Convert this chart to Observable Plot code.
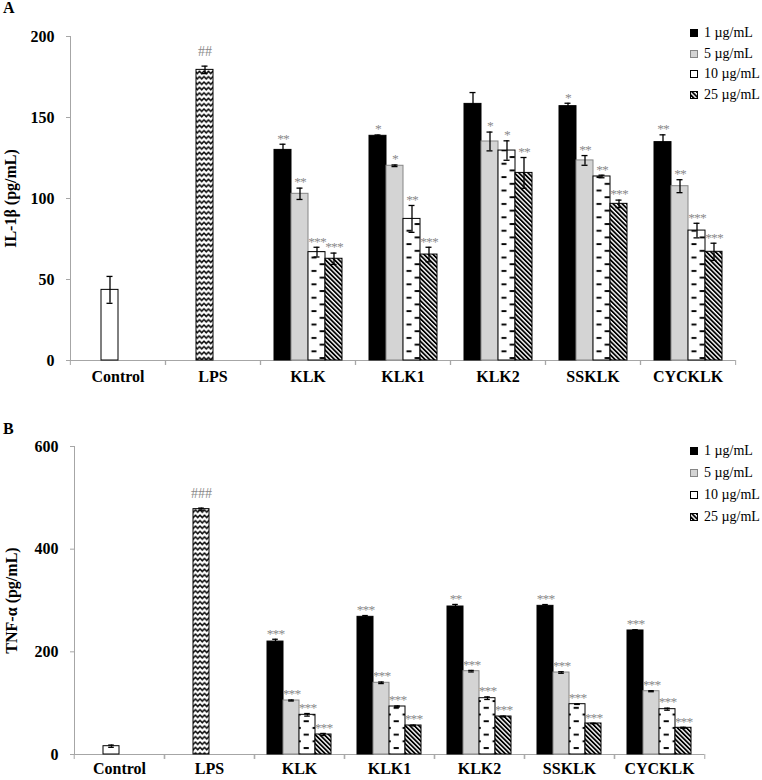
<!DOCTYPE html>
<html><head><meta charset="utf-8">
<script src="https://cdn.jsdelivr.net/npm/d3@7"></script>
<script src="https://cdn.jsdelivr.net/npm/@observablehq/plot@0.6"></script>
<style>
body{margin:0;background:#fff;}
#wrap{position:relative;width:762px;height:780px;font-family:'Liberation Serif','Times New Roman',serif;color:#000;}
.panel{position:absolute;left:0;width:762px;height:390px;}
.letter{position:absolute;left:3px;font-weight:bold;font-size:16px;line-height:16px;}
.legend{position:absolute;left:690px;top:0;font-size:14px;}
.legend .row{position:absolute;left:0;white-space:nowrap;display:flex;align-items:center;height:18px;transform:translateY(-50%);}
.legend svg{margin-right:6px;display:block;}
</style></head>
<body>
<svg width="0" height="0" style="position:absolute">
<defs>
<pattern id="dashA" patternUnits="userSpaceOnUse" x="12.2" y="0" width="17.74" height="13.4">
<rect width="17.74" height="13.4" fill="#fff"/>
<rect x="1.8" y="2" width="5" height="1.9" fill="#000"/>
<rect x="10" y="8.7" width="5.4" height="1.9" fill="#000"/>
</pattern>
<pattern id="dashB" patternUnits="userSpaceOnUse" x="11.9" y="0" width="16.7" height="13.4">
<rect width="16.7" height="13.4" fill="#fff"/>
<rect x="1.7" y="2" width="5" height="1.9" fill="#000"/>
<rect x="9.5" y="8.7" width="5.2" height="1.9" fill="#000"/>
</pattern>
<pattern id="diag" patternUnits="userSpaceOnUse" width="3.2" height="3.2" patternTransform="rotate(-45)">
<rect width="3.2" height="3.2" fill="#fff"/>
<rect width="1.8" height="3.2" fill="#000"/>
</pattern>
<pattern id="zig" patternUnits="userSpaceOnUse" width="4.5" height="5.4">
<rect width="4.5" height="5.4" fill="#fff"/>
<path d="M-0.2,0.7 L2.25,3.5 L4.7,0.7" fill="none" stroke="#000" stroke-width="1.45"/>
</pattern>
</defs>
</svg>
<div id="wrap">
  <div class="panel" id="pA" style="top:0"></div>
  <div class="panel" id="pB" style="top:390px"></div>
  <div class="letter" style="top:0px">A</div>
  <div class="letter" style="top:421px">B</div>
  <div class="legend" id="legA"></div>
  <div class="legend" id="legB"></div>
</div>
<script>
// ---- categories ----
const treatments = ["KLK", "KLK1", "KLK2", "SSKLK", "CYCKLK"];
const groups = ["Control", "LPS", ...treatments];
const doses = ["1 µg/mL", "5 µg/mL", "10 µg/mL", "25 µg/mL"];

// ---- IL-1β (pg/mL) ----
const ilControl = [43.6], ilControlErr = [8.3];
const ilLPS = [179.4], ilLPSErr = [2.3], ilLPSSig = ["##"];
const il1 = [130, 138.7, 158.4, 157, 134.8];
const il1Err = [3.5, 0.5, 7, 1.8, 4.5];
const il1Sig = ["**", "*", "", "*", "**"];
const il5 = [102.9, 120.2, 135.2, 123.5, 107.6];
const il5Err = [3.5, 0.5, 5.8, 3, 4];
const il5Sig = ["**", "*", "*", "**", "**"];
const il10 = [66.9, 87.4, 129.6, 113.6, 80.2];
const il10Err = [3, 8.3, 6, 0.8, 4.5];
const il10Sig = ["***", "**", "*", "**", "***"];
const il25 = [62.8, 65.4, 115.8, 96.7, 67.1];
const il25Err = [3.5, 4.5, 9.5, 2.3, 5.3];
const il25Sig = ["***", "***", "**", "***", "***"];
const ilTicks = [0, 50, 100, 150, 200];

// ---- TNF-α (pg/mL) ----
const tnfControl = [16.2], tnfControlErr = [2.2];
const tnfLPS = [478], tnfLPSErr = [2], tnfLPSSig = ["###"];
const tnf1 = [220, 268.2, 288.3, 289.6, 241.6];
const tnf1Err = [4.5, 2.5, 4, 2.5, 1.5];
const tnf1Sig = ["***", "***", "**", "***", "***"];
const tnf5 = [105.2, 139.7, 162.3, 159.7, 123.3];
const tnf5Err = [1, 1.5, 1.5, 1.5, 1];
const tnf5Sig = ["***", "***", "***", "***", "***"];
const tnf10 = [77.3, 93.5, 109.7, 98, 88.3];
const tnf10Err = [2.5, 1, 2.5, 0.5, 2];
const tnf10Sig = ["***", "***", "***", "***", "***"];
const tnf25 = [39, 56.5, 74, 60.4, 52];
const tnf25Err = [2, 0.8, 0.8, 0.5, 1];
const tnf25Sig = ["***", "***", "***", "***", "***"];
const tnfTicks = [0, 200, 400, 600];

function doseRows(means, errs, sigs, dose) {
  return treatments.map((g, i) => ({group: g, slot: dose, value: means[i], lo: means[i] - errs[i], hi: means[i] + errs[i], sig: sigs[i]}));
}
function singleRow(group, means, errs, sigs) {
  return means.map((m, i) => ({group, slot: doses[1], value: m, lo: m - errs[i], hi: m + errs[i], sig: sigs ? sigs[i] : ""}));
}

const axisGray = "#a6a6a6";
const FONT = "'Liberation Serif','Times New Roman',serif";

function makePanel(cfg) {
  const {doseData, ctrl, lps, ticks, label, mL, mR, mT, mB, pad, dashId, cap, fxPad} = cfg;
  const W = 762, H = 390;
  const bw = (W - mL - mR) / groups.length;
  const seriesStyle = [
    {fill: "#000", stroke: "#000"},
    {fill: "#d4d4d4", stroke: "#868686"},
    {fill: `url(#${dashId})`, stroke: "#000"},
    {fill: "url(#diag)", stroke: "#000"}
  ];
  const all = [...doseData.flat(), ...ctrl, ...lps];
  const marks = [
    Plot.frame({anchor: "left", facetAnchor: "left", stroke: axisGray}),
    Plot.ruleY([0], {stroke: axisGray}),
    Plot.axisFx({anchor: "bottom", tickSize: 5, dx: -bw / 2, tickFormat: () => "", stroke: axisGray, label: null}),
    Plot.axisFx({anchor: "bottom", tickSize: 5, dx: bw / 2, tickFormat: () => "", stroke: axisGray, label: null}),
    Plot.axisFx({anchor: "bottom", tickSize: 0, tickPadding: fxPad, fontSize: 16, fontWeight: "bold", fill: "#000", label: null}),
    Plot.axisY({ticks, tickSize: 4, tickPadding: 12, stroke: axisGray, fill: "#000", fontSize: 16, fontWeight: "bold",
      label, labelAnchor: "center", labelArrow: "none"}),
    Plot.barY(ctrl, {fx: "group", x: "slot", y: "value", fill: "#fff", stroke: "#000"}),
    Plot.barY(lps, {fx: "group", x: "slot", y: "value", fill: "url(#zig)", stroke: "#000"}),
    ...doseData.map((rows, i) => Plot.barY(rows, {fx: "group", x: "slot", y: "value", ...seriesStyle[i]})),
    Plot.ruleX(all, {fx: "group", x: "slot", y1: "lo", y2: "hi", stroke: "#000", strokeWidth: 1.3}),
    Plot.tickY(all, {fx: "group", x: "slot", y: "hi", stroke: "#000", strokeWidth: 1.3, insetLeft: cap, insetRight: cap}),
    Plot.tickY(all, {fx: "group", x: "slot", y: "lo", stroke: "#000", strokeWidth: 1.3, insetLeft: cap, insetRight: cap}),
    Plot.text(doseData.flat().filter(d => d.sig), {fx: "group", x: "slot", y: "hi", text: "sig", dy: -6, fill: "#8a8a8a", fontSize: 13.5}),
    Plot.text(lps.filter(d => d.sig), {fx: "group", x: "slot", y: "hi", text: "sig", dy: -15, fill: "#8a8a8a", fontSize: 14})
  ];
  const svg = Plot.plot({
    width: W, height: H,
    marginLeft: mL, marginRight: mR, marginTop: mT, marginBottom: mB,
    style: {fontFamily: FONT, fontSize: "16px", background: "transparent", overflow: "visible", color: "#000"},
    fx: {domain: groups, padding: 0, label: null},
    x: {domain: doses, paddingInner: 0, paddingOuter: pad, axis: null},
    y: {domain: [ticks[0], ticks[ticks.length - 1]]},
    marks
  });
  // tighten the significance asterisks slightly so neighbouring labels don't collide
  svg.querySelectorAll("text").forEach(t => {
    if (/^\*+$/.test(t.textContent)) t.setAttribute("letter-spacing", "-0.9");
  });
  return svg;
}

const ilDose = [
  doseRows(il1, il1Err, il1Sig, doses[0]),
  doseRows(il5, il5Err, il5Sig, doses[1]),
  doseRows(il10, il10Err, il10Sig, doses[2]),
  doseRows(il25, il25Err, il25Sig, doses[3])
];
const tnfDose = [
  doseRows(tnf1, tnf1Err, tnf1Sig, doses[0]),
  doseRows(tnf5, tnf5Err, tnf5Sig, doses[1]),
  doseRows(tnf10, tnf10Err, tnf10Sig, doses[2]),
  doseRows(tnf25, tnf25Err, tnf25Sig, doses[3])
];

document.getElementById("pA").appendChild(makePanel({
  doseData: ilDose,
  ctrl: singleRow("Control", ilControl, ilControlErr),
  lps: singleRow("LPS", ilLPS, ilLPSErr, ilLPSSig),
  ticks: ilTicks, label: "IL-1β (pg/mL)",
  mL: 69, mR: 26, mT: 36, mB: 30, pad: 0.686, dashId: "dashA", cap: 5.5, fxPad: 10
}));
document.getElementById("pB").appendChild(makePanel({
  doseData: tnfDose,
  ctrl: singleRow("Control", tnfControl, tnfControlErr),
  lps: singleRow("LPS", tnfLPS, tnfLPSErr, tnfLPSSig),
  ticks: tnfTicks, label: "TNF-α (pg/mL)",
  mL: 72, mR: 56, mT: 56, mB: 26, pad: 0.71, dashId: "dashB", cap: 5.2, fxPad: 8
}));

// ---- legends ----
const swatchFill = ["#000", "#d4d4d4", "#fff", "url(#diag)"];
const swatchStroke = ["#000", "#868686", "#000", "#000"];
function legend(id, rowsY) {
  const el = document.getElementById(id);
  doses.forEach((d, i) => {
    const row = document.createElement("div");
    row.className = "row";
    row.style.top = rowsY[i] + "px";
    row.innerHTML = `<svg width="8" height="8"><rect x="0.5" y="0.5" width="7" height="7" fill="${swatchFill[i]}" stroke="${swatchStroke[i]}"/></svg><span>${d}</span>`;
    el.appendChild(row);
  });
}
legend("legA", [33, 53.5, 74, 94.5]);
legend("legB", [451, 473, 495, 516.5]);
</script>
</body></html>
